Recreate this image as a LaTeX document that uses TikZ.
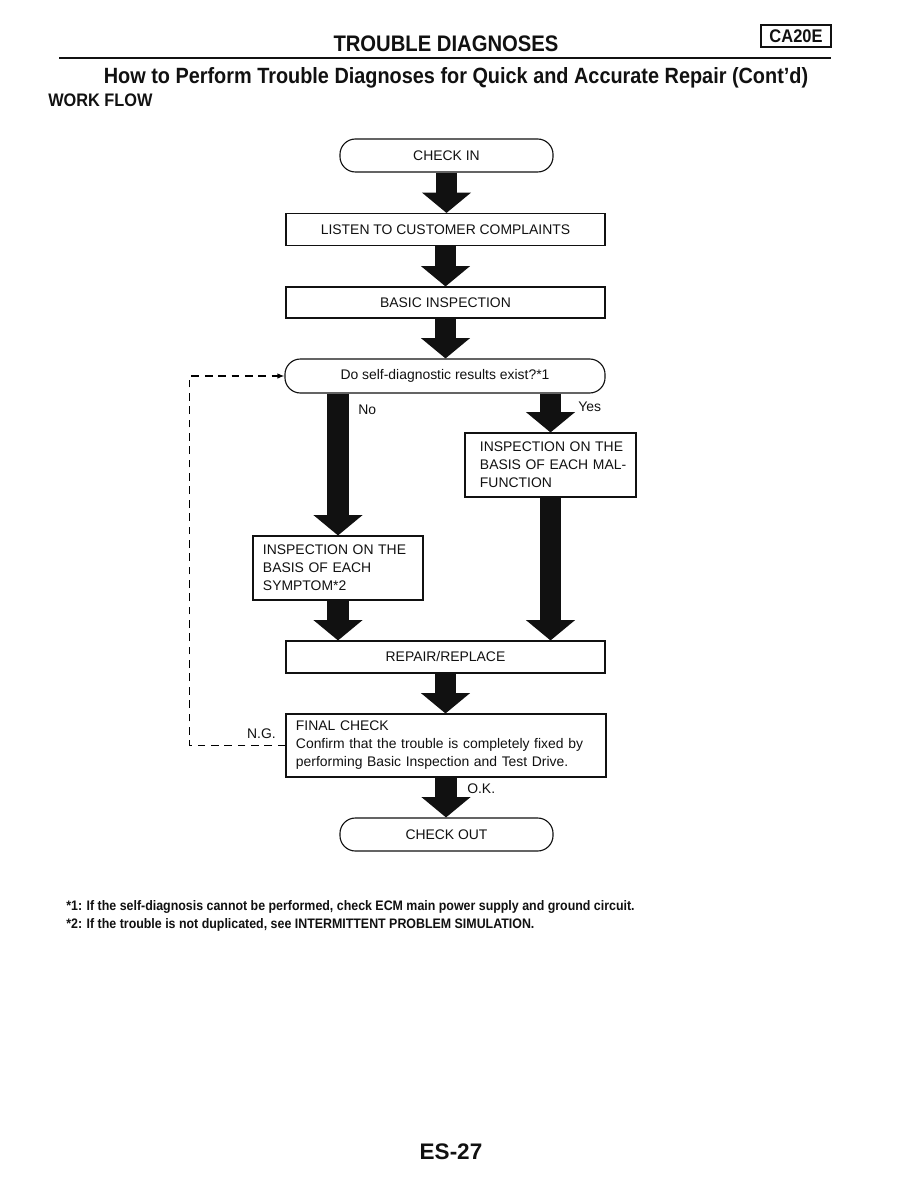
\documentclass[tikz,border=0pt]{standalone}
\usepackage{fontspec}
\setmainfont{Liberation Sans}
\newfontfamily\condfont[FakeStretch=0.9]{Liberation Sans}
\usetikzlibrary{positioning,arrows.meta}
\definecolor{ink}{HTML}{111111}
\definecolor{loop}{HTML}{333333}
\newcommand\flowfont{\fontsize{9.9}{12.8}\selectfont}
\tikzset{
  box/.style={draw=ink,line width=.8pt,inner sep=0pt,font=\flowfont,text=ink,align=center},
  term/.style={box,rounded corners=11pt,minimum width=5.325cm,minimum height=.825cm},
  wide/.style={box,minimum width=7.975cm,minimum height=.8cm},
  bigarrow/.style={ink,line width=15.5pt,-{Triangle[width=35pt,length=14.5pt,line width=0pt]}},
  tag/.style={font=\flowfont,text=ink,inner sep=0pt}
}

\begin{document}
\begin{tikzpicture}[x=0.025cm,y=-0.025cm]
  \fill[white] (0,0) rectangle (918,1188);
  % page header
  \node[text=ink,font=\condfont\bfseries\fontsize{16}{18}\selectfont] (title) at (446,44) {TROUBLE DIAGNOSES};
  \node[draw=ink,line width=.8pt,text=ink,inner sep=0pt,minimum width=1.75cm,minimum height=.55cm,
        font=\condfont\bfseries\fontsize{13}{15}\selectfont] (model) at (796,36) {CA20E};
  \draw[ink,line width=1.2pt] (59,58) -- (831,58);
  \node[text=ink,font=\condfont\bfseries\fontsize{15.7}{18}\selectfont] (subtitle) at (456,78)
    {How to Perform Trouble Diagnoses for Quick and Accurate Repair (Cont’d)};
  \node[anchor=west,inner sep=0pt,text=ink,font=\condfont\bfseries\fontsize{12.9}{15}\selectfont] (section) at (48,100) {WORK FLOW};
  % flow
  \node[term] (checkin) at (446.5,155.5) {CHECK IN};
  \node[wide] (listen) at (445.5,229.5) {LISTEN TO CUSTOMER COMPLAINTS};
  \node[wide,minimum height=.775cm] (basic) at (445.5,302.5) {BASIC INSPECTION};
  \node[term,minimum width=8cm,minimum height=.85cm] (decide) at (445,376) {Do self-diagnostic results exist?*1};
  \node[box,align=left,minimum height=1.6cm,text width=3.875cm,inner xsep=.2cm] (yesbox) at (550.5,465)
    {\hspace*{.175cm}INSPECTION ON THE\\\hspace*{.175cm}BASIS OF EACH MAL-\\\hspace*{.175cm}FUNCTION};
  \node[box,align=left,minimum height=1.6cm,text width=3.75cm,inner xsep=.25cm] (symptom) at (338,568)
    {INSPECTION ON THE\\BASIS OF EACH\\SYMPTOM*2};
  \node[wide] (repair) at (445.5,657) {REPAIR/REPLACE};
  \node[box,align=left,minimum height=1.575cm,text width=7.5cm,inner xsep=.25cm] (final) at (446,745.5)
    {FINAL CHECK\\Confirm that the trouble is completely fixed by\\performing Basic Inspection and Test Drive.};
  \node[term] (checkout) at (446.5,834.5) {CHECK OUT};
  % block arrows
  \draw[bigarrow] (checkin.south) -- (checkin.south |- listen.north);
  \draw[bigarrow] (listen.south) -- (listen.south |- basic.north);
  \draw[bigarrow] (basic.south) -- (basic.south |- decide.north);
  \draw[bigarrow] (decide.south -| symptom.north) -- (symptom.north);
  \draw[bigarrow] (decide.south -| yesbox.north) -- (yesbox.north);
  \draw[bigarrow] (yesbox.south) -- (yesbox.south |- repair.north);
  \draw[bigarrow] (symptom.south) -- (symptom.south |- repair.north);
  \draw[bigarrow] (repair.south) -- (repair.south |- final.north);
  \draw[bigarrow] (final.south) -- (final.south |- checkout.north);
  % N.G. loop back
  \draw[loop,line width=1.1pt,dash pattern=on 5.5pt off 4pt,-{Latex[length=5pt,width=4pt]}]
    (final.west) -- ++(-96,0) |- (decide.west);
  \node[tag,anchor=west] (no) at (358,410) {No};
  \node[tag,anchor=west] (yes) at (578,407) {Yes};
  \node[tag,anchor=east] (ng) at (276,734) {N.G.};
  \node[tag,anchor=west] (ok) at (467,789) {O.K.};
  % notes
  \node[anchor=west,inner sep=0pt,text=ink,font=\condfont\bfseries\fontsize{9.8}{12}\selectfont] (note1) at (66,907)
    {*1: If the self-diagnosis cannot be performed, check ECM main power supply and ground circuit.};
  \node[anchor=west,inner sep=0pt,text=ink,font=\condfont\bfseries\fontsize{9.8}{12}\selectfont] (note2) at (66,925)
    {*2: If the trouble is not duplicated, see INTERMITTENT PROBLEM SIMULATION.};
  \node[text=ink,font=\bfseries\fontsize{16}{18}\selectfont] (page) at (451,1152) {ES-27};
\end{tikzpicture}
\end{document}
